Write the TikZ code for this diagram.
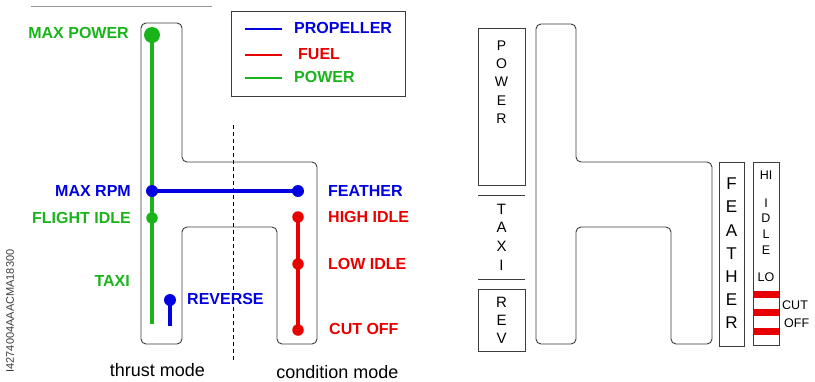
\documentclass[tikz,border=0pt]{standalone}
\usepackage{fontspec}
\setmainfont{Liberation Sans}
\definecolor{cgreen}{RGB}{25,180,25}
\definecolor{cblue}{RGB}{0,0,225}
\definecolor{cred}{RGB}{232,0,0}
\definecolor{cgray}{RGB}{60,60,60}
\definecolor{lgray}{RGB}{150,150,150}
\begin{document}
\begin{tikzpicture}[x=1pt,y=-1pt,
  lbl/.style={inner sep=0pt, font=\bfseries\fontsize{16}{16}\selectfont, text height=11.5pt, text depth=0pt},
  gate/.style={draw=cgray, line width=0.9pt, rounded corners=5pt},
  lever/.style={line width=3.3pt},
  swatch/.style={line width=2.7pt},
  dotn/.style={circle, inner sep=0pt, minimum size=#1},
  boxr/.style={draw=cgray, line width=0.8pt},
  vtxt/.style={inner sep=0pt, align=center},
  modetxt/.style={inner sep=0pt, font=\fontsize{18}{18}\selectfont}
]
\useasboundingbox (0,0) rectangle (815,381);

% ---------------- left diagram ----------------
\draw[lgray, line width=1pt] (31,6.5) -- (212,6.5);

% legend
\node[draw=cgray, line width=1pt, minimum width=174pt, minimum height=85pt, inner sep=0pt, anchor=north west] (legend) at (231,11) {};
\draw[swatch, cblue] (245,29) -- (282,29);
\draw[swatch, cred] (245,55) -- (282,55);
\draw[swatch, cgreen] (245,78) -- (282,78);
\node[lbl, cblue, anchor=west] (lgprop) at (294,28) {PROPELLER};
\node[lbl, cred, anchor=west] (lgfuel) at (298,54) {FUEL};
\node[lbl, cgreen, anchor=west] (lgpow) at (294,77) {POWER};

% gate
\draw[gate] (141,23) -- (182,23) -- (182,162) -- (317,162) -- (317,344) -- (277,344)
  -- (277,227) -- (182,227) -- (182,344) -- (141,344) -- cycle;
\draw[black, line width=0.8pt, dash pattern=on 4pt off 3pt] (233,125) -- (233,360);

% lever positions
\coordinate (pmax) at (152,35);
\coordinate (prpm) at (152,191);
\coordinate (pfi) at (152,218);
\coordinate (pend) at (152,324);
\coordinate (feat) at (298,191);
\coordinate (hi) at (298,217);
\coordinate (lo) at (298,264);
\coordinate (co) at (298,330);
\coordinate (rev) at (170,300);
\coordinate (revend) at (170,326);

\draw[lever, cgreen] (pmax) -- (pend);
\draw[lever, cblue] (prpm) -- (feat);
\draw[lever, cred] (hi) -- (co);
\draw[lever, cblue] (rev) -- (revend);

\node[dotn=16pt, fill=cgreen] (dmax) at (pmax) {};
\node[dotn=11.5pt, fill=cgreen] (dfi) at (pfi) {};
\node[dotn=12pt, fill=cblue] (drpm) at (prpm) {};
\node[dotn=12pt, fill=cblue] (dfeat) at (feat) {};
\node[dotn=11.5pt, fill=cred] (dhi) at (hi) {};
\node[dotn=11.5pt, fill=cred] (dlo) at (lo) {};
\node[dotn=11.5pt, fill=cred] (dco) at (co) {};
\node[dotn=12pt, fill=cblue] (drev) at (rev) {};

% labels
\node[lbl, cgreen, anchor=east] (tmaxp) at (129,33) {MAX POWER};
\node[lbl, cblue, anchor=east] (tmaxr) at (131,191) {MAX RPM};
\node[lbl, cgreen, anchor=east] (tfi) at (131,218) {FLIGHT IDLE};
\node[lbl, cgreen, anchor=east] (ttaxi) at (130,281) {TAXI};
\node[lbl, cblue, anchor=west] (trev) at (187,299) {REVERSE};
\node[lbl, cblue, anchor=west] (tfeat) at (328,191) {FEATHER};
\node[lbl, cred, anchor=west] (thi) at (328,217) {HIGH IDLE};
\node[lbl, cred, anchor=west] (tlo) at (328,264) {LOW IDLE};
\node[lbl, cred, anchor=west] (tco) at (329,329) {CUT OFF};

\node[modetxt] (tthrust) at (157.5,370) {thrust mode};
\node[modetxt] (tcond) at (337.5,372) {condition mode};

\node[inner sep=0pt, rotate=90, text=cgray, font=\fontsize{11}{11}\selectfont] (code) at (10,311) {I4274004AAACMA18300};

% ---------------- right diagram ----------------
\begin{scope}[shift={(395,0)}]
\draw[gate] (141,24) -- (181,24) -- (181,162) -- (317,162) -- (317,344) -- (276,344)
  -- (276,227) -- (181,227) -- (181,344) -- (141,344) -- cycle;
\end{scope}

\draw[boxr] (478,28) rectangle (525,185);
\draw[cgray, line width=0.8pt] (478,195) -- (525,195);
\draw[cgray, line width=0.8pt] (478,279) -- (525,279);
\draw[boxr] (478,289) rectangle (525,351);
\draw[boxr] (719,162) rectangle (744,346);
\draw[boxr] (753,162) rectangle (779,345);

\fill[cred] (753,290.5) rectangle (779,297.5);
\fill[cred] (753,308.5) rectangle (779,315.5);
\fill[cred] (753,327.5) rectangle (779,334.5);

\node[vtxt, font=\fontsize{14}{18.2}\selectfont] (vpower) at (501.5,82) {P\\O\\W\\E\\R};
\node[vtxt, font=\fontsize{15}{18.7}\selectfont] (vtaxi) at (501.5,237) {T\\A\\X\\I};
\node[vtxt, font=\fontsize{15}{18}\selectfont] (vrev) at (501.5,320) {R\\E\\V};
\node[vtxt, font=\fontsize{17}{23.2}\selectfont] (vfeat) at (731.5,253.5) {F\\E\\A\\T\\H\\E\\R};
\node[vtxt, font=\fontsize{12.5}{12.5}\selectfont] (vhi) at (766,175) {HI};
\node[vtxt, font=\fontsize{12.5}{15.7}\selectfont] (vidle) at (766,226.5) {I\\D\\L\\E};
\node[vtxt, font=\fontsize{12.5}{12.5}\selectfont] (vlo) at (766,277) {LO};
\node[inner sep=0pt, anchor=west, font=\fontsize{12.5}{12.5}\selectfont] (vcut) at (782,305) {CUT};
\node[inner sep=0pt, anchor=west, font=\fontsize{12.5}{12.5}\selectfont] (voff) at (784,323) {OFF};
\end{tikzpicture}
\end{document}
